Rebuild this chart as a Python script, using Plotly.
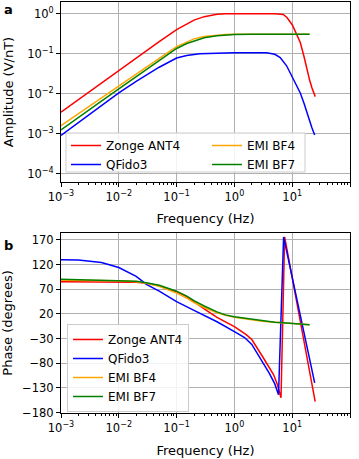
import plotly.graph_objects as go

# ---------------- data ----------------
series_names = ["Zonge ANT4", "QFido3", "EMI BF4", "EMI BF7"]
series_colors = ["#ff0000", "#0000ff", "#ffa500", "#008000"]

# Amplitude (V/nT)
amp_f_zonge = [0.001, 0.002, 0.005, 0.01, 0.02, 0.05, 0.1, 0.15, 0.2, 0.3, 0.5, 0.7, 1, 2, 3, 5, 6.2, 7, 8.1, 10, 12, 13.8, 16, 18, 20, 22, 25]
amp_zonge = [3.5e-3, 7.2e-3, 1.85e-2, 3.8e-2, 7.8e-2, 0.2, 0.4, 0.56, 0.69, 0.84, 0.96, 0.99, 1.0, 1.0, 1.0, 1.0, 0.99, 0.95, 0.8, 0.53, 0.3, 0.19, 0.085, 0.04, 0.022, 0.014, 0.0085]

amp_f_qfido = [0.001, 0.002, 0.005, 0.01, 0.02, 0.05, 0.1, 0.15, 0.25, 0.5, 1, 2, 3.6, 5, 6.2, 8, 10, 12, 13.8, 16, 18, 20, 22, 24.5]
amp_qfido = [9.2e-4, 1.9e-3, 5.0e-3, 1.05e-2, 2.05e-2, 4.6e-2, 7.8e-2, 9.0e-2, 0.1, 0.105, 0.106, 0.106, 0.105, 0.097, 0.08, 0.05, 0.027, 0.016, 0.0105, 0.0058, 0.0033, 0.0021, 0.0014, 9.4e-4]

amp_f_bf4 = [0.001, 0.002, 0.005, 0.01, 0.02, 0.05, 0.1, 0.15, 0.2, 0.3, 0.5, 0.7, 1, 2, 5, 10, 20]
amp_bf4 = [1.6e-3, 3.2e-3, 8.0e-3, 1.6e-2, 3.2e-2, 7.6e-2, 0.15, 0.2, 0.235, 0.27, 0.292, 0.3, 0.305, 0.306, 0.306, 0.306, 0.306]

amp_f_bf7 = [0.001, 0.002, 0.005, 0.01, 0.02, 0.05, 0.1, 0.15, 0.2, 0.3, 0.5, 0.7, 1, 2, 5, 10, 20]
amp_bf7 = [1.25e-3, 2.6e-3, 6.6e-3, 1.33e-2, 2.7e-2, 6.6e-2, 0.135, 0.18, 0.21, 0.25, 0.28, 0.295, 0.303, 0.306, 0.306, 0.306, 0.306]

# Phase (degrees)
ph_f_zonge = [0.001, 0.003, 0.01, 0.02, 0.03, 0.05, 0.1, 0.15, 0.2, 0.3, 0.5, 0.7, 1, 1.6, 2, 3.2, 4, 4.75, 5.5, 6.4, 7.4, 10, 15, 20, 25]
ph_zonge = [85, 85, 85, 84, 82, 77, 65, 55, 45, 30, 13, 3, -6, -22, -32, -70, -88, -103, -122, -150, 176, 93, -18, -97, -158]

ph_f_qfido = [0.001, 0.002, 0.005, 0.01, 0.02, 0.03, 0.05, 0.1, 0.2, 0.3, 0.5, 1, 1.5, 2, 3, 4, 5, 5.8, 7.1, 10, 15, 20, 24.5]
ph_qfido = [130, 129, 124, 114, 96, 80, 66, 45, 27, 17, 4, -16, -28, -42, -76, -100, -122, -144, 176, 95, -3, -71, -120]

ph_f_bf = [0.001, 0.01, 0.02, 0.03, 0.05, 0.1, 0.15, 0.2, 0.3, 0.5, 0.7, 1, 2, 3, 5, 7, 10, 15, 20]
ph_bf4 = [88, 87, 85, 82, 76, 62, 52, 43, 33, 22, 17, 13, 8, 5, 3, 2, 1, 0, -2]
ph_bf7 = [90, 88, 86, 83, 78, 66, 56, 47, 36, 24, 18, 14, 9, 6, 3, 2, 1, 0, -2]

freq_ticks = [1e-3, 1e-2, 1e-1, 1e0, 1e1, 1e2]
freq_ticktext = ["10<sup>\u22123</sup>", "10<sup>\u22122</sup>", "10<sup>\u22121</sup>",
                 "10<sup>0</sup>", "10<sup>1</sup>", "10<sup>2</sup>"]
amp_ticks = [1e-4, 1e-3, 1e-2, 1e-1, 1e0]
amp_ticktext = ["10<sup>\u22124</sup>", "10<sup>\u22123</sup>", "10<sup>\u22122</sup>",
                "10<sup>\u22121</sup>", "10<sup>0</sup>"]
phase_ticks = [-180, -130, -80, -30, 20, 70, 120, 170]

# ---------------- figure ----------------
FONT = "DejaVu Sans"
fig = go.Figure()

amp_f = [amp_f_zonge, amp_f_qfido, amp_f_bf4, amp_f_bf7]
amp_v = [amp_zonge, amp_qfido, amp_bf4, amp_bf7]
ph_f = [ph_f_zonge, ph_f_qfido, ph_f_bf, ph_f_bf]
ph_v = [ph_zonge, ph_qfido, ph_bf4, ph_bf7]
top_legends = ["legend", "legend", "legend3", "legend3"]  # two legend columns in panel a

for i, name in enumerate(series_names):
    fig.add_trace(go.Scatter(
        x=amp_f[i], y=amp_v[i], mode="lines", name=name,
        line=dict(color=series_colors[i], width=1.5),
        xaxis="x", yaxis="y", legend=top_legends[i], legendrank=i + 1,
    ))
for i, name in enumerate(series_names):
    fig.add_trace(go.Scatter(
        x=ph_f[i], y=ph_v[i], mode="lines", name=name,
        line=dict(color=series_colors[i], width=1.5),
        xaxis="x2", yaxis="y2", legend="legend2", legendrank=i + 1,
    ))

axis_common = dict(
    showline=True, linecolor="black", linewidth=1, mirror=True,
    showgrid=True, gridcolor="#b0b0b0", gridwidth=1,
    ticks="outside", ticklen=4, tickwidth=1, tickcolor="black",
    zeroline=False,
    tickfont=dict(family=FONT, size=11.5, color="black"),
)
def xaxis_cfg(standoff):
    return dict(
        type="log", range=[-3, 2], tickvals=freq_ticks, ticktext=freq_ticktext,
        minor=dict(ticks="outside", ticklen=2, tickcolor="black", dtick="D1", showgrid=False),
        title=dict(text="Frequency (Hz)", font=dict(family=FONT, size=13, color="black"), standoff=standoff),
        **axis_common,
    )

top_dom = [(413 - 182) / 411, 1.0]
bot_dom = [0.0, (413 - 233) / 411]

def px_x(px):
    return (px - 61) / 289

def px_y(py):
    return (413 - py) / 411

leg_font = dict(family=FONT, size=12, color="black")
clear = "rgba(0,0,0,0)"

fig.update_layout(
    width=359, height=459,
    margin=dict(l=61, r=9, t=2, b=46),
    paper_bgcolor="white", plot_bgcolor="white",
    font=dict(family=FONT, size=12, color="black"),
    xaxis=dict(domain=[0, 1], anchor="y", **xaxis_cfg(11)),
    yaxis=dict(domain=top_dom, anchor="x", type="log", range=[-4.2, 0.29],
               tickvals=amp_ticks, ticktext=amp_ticktext,
               title=dict(text="Amplitude (V/nT)", font=dict(family=FONT, size=13, color="black"), standoff=10),
               **axis_common),
    xaxis2=dict(domain=[0, 1], anchor="y2", **xaxis_cfg(12)),
    yaxis2=dict(domain=bot_dom, anchor="x2", range=[-181, 184],
                tickvals=phase_ticks,
                title=dict(text="Phase (degrees)", font=dict(family=FONT, size=13, color="black"), standoff=6),
                **axis_common),
    legend=dict(
        x=px_x(66), y=px_y(131), xanchor="left", yanchor="top",
        orientation="v", itemwidth=30, bgcolor=clear, borderwidth=0, font=leg_font,
    ),
    legend3=dict(
        x=px_x(207), y=px_y(131), xanchor="left", yanchor="top",
        orientation="v", itemwidth=30, bgcolor=clear, borderwidth=0, font=leg_font,
    ),
    legend2=dict(
        x=px_x(67), y=px_y(324), xanchor="left", yanchor="top",
        orientation="v", itemwidth=30,
        bgcolor="rgba(255,255,255,0.85)", bordercolor="#cccccc", borderwidth=1,
        font=leg_font,
    ),
    shapes=[
        dict(type="rect", xref="paper", yref="paper",
             x0=px_x(66), x1=px_x(305), y0=px_y(172), y1=px_y(133),
             fillcolor="rgba(255,255,255,0.85)", line=dict(color="#cccccc", width=1),
             layer="above"),
    ],
    annotations=[
        dict(text="<b>a</b>", x=(8 - 61) / 289, y=px_y(10), xref="paper", yref="paper",
             showarrow=False, font=dict(family=FONT, size=13, color="black"), xanchor="center", yanchor="middle"),
        dict(text="<b>b</b>", x=(8 - 61) / 289, y=px_y(245), xref="paper", yref="paper",
             showarrow=False, font=dict(family=FONT, size=13, color="black"), xanchor="center", yanchor="middle"),
    ],
    showlegend=True,
)

fig.write_html("out.html", config={"displayModeBar": False},
               post_script="document.body.style.margin='0';document.body.style.padding='0';")
